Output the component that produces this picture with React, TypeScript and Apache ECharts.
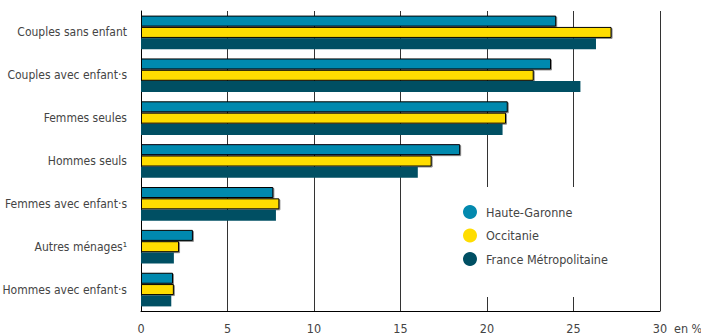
import React, { useEffect, useRef } from "react";
import * as echarts from "echarts";

const categories = [
  "Couples sans enfant",
  "Couples avec enfant·s",
  "Femmes seules",
  "Hommes seuls",
  "Femmes avec enfant·s",
  "Autres ménages¹",
  "Hommes avec enfant·s",
];
const hauteGaronne = [24.0, 23.7, 21.2, 18.45, 7.65, 3.0, 1.85];
const occitanie = [27.2, 22.7, 21.1, 16.8, 8.0, 2.2, 1.9];
const franceMetro = [26.3, 25.4, 20.9, 16.0, 7.8, 1.9, 1.75];
const xTicks = [0, 5, 10, 15, 20, 25, 30];

const FONT = "'DejaVu Sans Condensed', 'Liberation Sans Narrow', 'Roboto', sans-serif";

export default function App() {
  const ref = useRef<HTMLDivElement>(null);
  useEffect(() => {
    if (!ref.current) return;
    const chart = echarts.init(ref.current, undefined, { renderer: "svg" });
    const borderStyle = {
      borderColor: "#000",
      borderWidth: 1,
      shadowColor: "rgba(0,0,0,0.45)",
      shadowBlur: 1,
      shadowOffsetX: 1,
      shadowOffsetY: 1,
    };
    chart.setOption({
      animation: false,
      grid: {
        left: 141,
        right: 41,
        top: 11,
        bottom: 25,
        containLabel: false,
        outerBoundsMode: "none",
      },
      legend: {
        orient: "vertical",
        left: 463,
        top: 205,
        icon: "circle",
        itemWidth: 14,
        itemHeight: 14,
        itemGap: 9.5,
        padding: 0,
        itemStyle: { borderWidth: 0, shadowBlur: 0, shadowOffsetX: 0, shadowOffsetY: 0 },
        textStyle: { fontFamily: FONT, fontSize: 12.5, color: "#444", padding: [0, 0, 0, 4] },
        data: ["Haute-Garonne", "Occitanie", "France Métropolitaine"],
      },
      graphic: [
        {
          type: "rect",
          z: 1,
          shape: { x: 425, y: 187, width: 215, height: 110 },
          style: { fill: "#fff" },
        },
        {
          type: "text",
          x: 674,
          y: 328,
          style: {
            text: "en %",
            fontFamily: FONT,
            fontSize: 12.5,
            fill: "#444",
            verticalAlign: "middle",
            align: "left",
          },
        },
      ],
      xAxis: {
        type: "value",
        min: xTicks[0],
        max: xTicks[xTicks.length - 1],
        interval: 5,
        axisLine: { show: true, lineStyle: { color: "#000", width: 1 } },
        axisTick: { show: false },
        axisLabel: { margin: 11, fontFamily: FONT, fontSize: 12.5, color: "#444" },
        splitLine: { show: true, lineStyle: { color: "#333", width: 1 } },
      },
      yAxis: {
        type: "category",
        data: categories,
        inverse: true,
        axisLine: { show: true, lineStyle: { color: "#000", width: 1 } },
        axisTick: { show: false },
        axisLabel: { margin: 14, fontFamily: FONT, fontSize: 12, color: "#444" },
      },
      series: [
        {
          name: "Haute-Garonne",
          type: "bar",
          data: hauteGaronne,
          barWidth: 11,
          barGap: "3%",
          barCategoryGap: "20%",
          itemStyle: { color: "#0389AE", ...borderStyle },
        },
        {
          name: "Occitanie",
          type: "bar",
          data: occitanie,
          barWidth: 11,
          barGap: "3%",
          itemStyle: { color: "#FFDD00", ...borderStyle },
        },
        {
          name: "France Métropolitaine",
          type: "bar",
          data: franceMetro,
          barWidth: 11,
          barGap: "3%",
          itemStyle: { color: "#004F63" },
        },
      ],
    });
    return () => chart.dispose();
  }, []);
  return <div ref={ref} style={{ width: 701, height: 336, position: "absolute", left: 0, top: 0 }} />;
}
